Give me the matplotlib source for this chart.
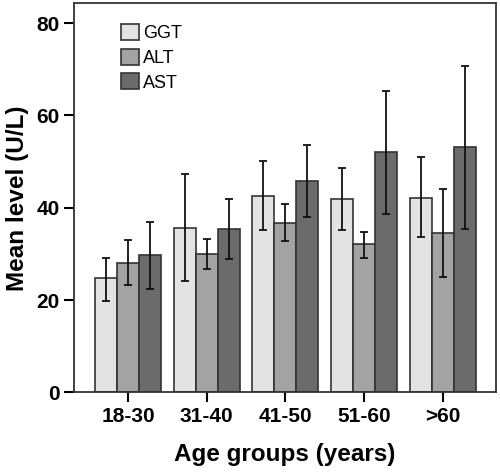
import numpy as np
import matplotlib
matplotlib.use("Agg")
import matplotlib.pyplot as plt

plt.rcParams["font.family"] = ["Liberation Sans", "DejaVu Sans"]

groups = ["18-30", "31-40", "41-50", "51-60", ">60"]
series = ["GGT", "ALT", "AST"]
colors = ["#e3e3e3", "#a3a3a3", "#6b6b6b"]

ggt = [24.7, 35.7, 42.6, 41.9, 42.2]
alt = [28.1, 29.9, 36.7, 32.1, 34.6]
ast = [29.8, 35.5, 45.7, 52.0, 53.1]

ggt_lo = [19.9, 24.2, 35.2, 35.1, 33.6]
ggt_hi = [29.1, 47.3, 50.2, 48.6, 51.1]
alt_lo = [23.3, 26.7, 32.7, 29.1, 25.1]
alt_hi = [33.0, 33.2, 40.8, 34.8, 44.1]
ast_lo = [22.4, 28.9, 38.1, 38.6, 35.4]
ast_hi = [37.0, 42.0, 53.5, 65.2, 70.8]

means = [ggt, alt, ast]
lows = [ggt_lo, alt_lo, ast_lo]
highs = [ggt_hi, alt_hi, ast_hi]

fig = plt.figure(figsize=(5.0, 4.75), dpi=100)
ax = fig.add_axes([0.148, 0.174, 0.844, 0.819])

x = np.arange(len(groups))
w = 0.28
for i, (name, c) in enumerate(zip(series, colors)):
    m = np.array(means[i]); lo = np.array(lows[i]); hi = np.array(highs[i])
    xs = x + (i - 1) * w
    ax.bar(xs, m, w, color=c, edgecolor="#333333", linewidth=1.2, label=name, zorder=2)
    ax.errorbar(xs, m, yerr=[m - lo, hi - m], fmt="none", ecolor="#111111",
                elinewidth=1.3, capsize=3, capthick=1.3, zorder=3)

ax.set_xlim(-0.69, 4.68)
ax.set_ylim(0, 84.3)
ax.set_yticks([0, 20, 40, 60, 80])
ax.set_xticks(x)
ax.set_xticklabels(groups)
ax.tick_params(axis="both", direction="out", length=7, width=1.5, labelsize=15)
for lab in ax.get_xticklabels() + ax.get_yticklabels():
    lab.set_fontweight("bold")
for s in ax.spines.values():
    s.set_linewidth(1.3)
    s.set_color("#333333")

ax.set_ylabel("Mean level (U/L)", fontsize=17.5, fontweight="bold", labelpad=5)
ax.set_xlabel("Age groups (years)", fontsize=17.5, fontweight="bold", labelpad=12)

ax.legend(loc="upper left", bbox_to_anchor=(0.095, 0.965), frameon=False,
          fontsize=13, handlelength=1.0, handleheight=1.0, handletextpad=0.2,
          labelspacing=0.35, borderaxespad=0)

fig.savefig("out.png", dpi=100)
